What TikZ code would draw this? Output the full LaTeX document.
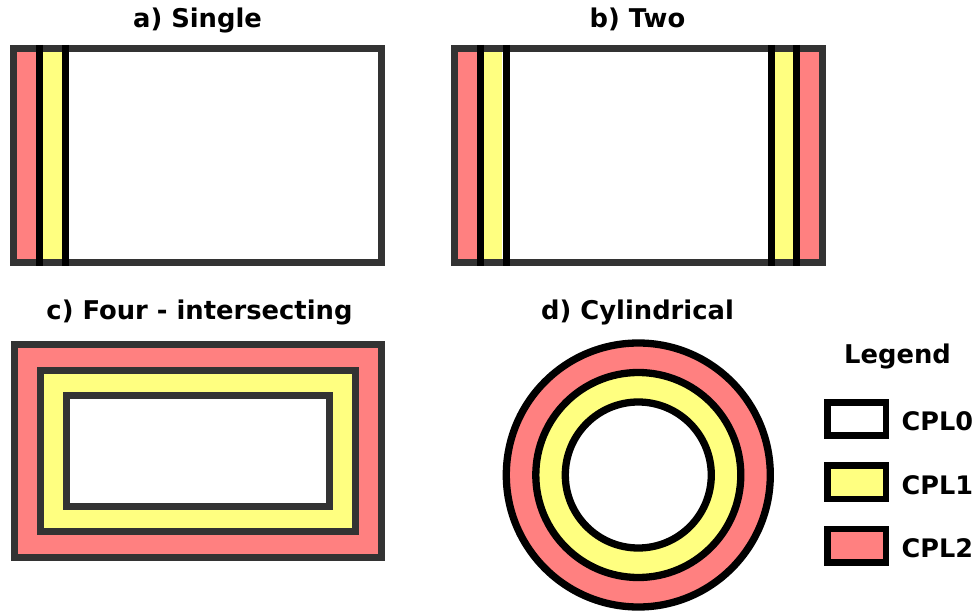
\documentclass[tikz,border=0pt]{standalone}
\usepackage{fontspec}
\setmainfont{DejaVu Sans}
\definecolor{cplred}{HTML}{FF8080}
\definecolor{cplyellow}{HTML}{FFFF80}
\definecolor{frame}{HTML}{333333}
\begin{document}
\begin{tikzpicture}[x=1pt,y=-1pt,
  title/.style={font=\fontsize{25.8}{30}\selectfont\bfseries, anchor=base, inner sep=0pt},
  legtext/.style={font=\fontsize{25.5}{30}\selectfont\bfseries, anchor=base west, inner sep=0pt},
  grayline/.style={draw=frame, line width=7pt},
  blackline/.style={draw=black, line width=7pt},
  legbox/.style={draw=black, line width=6.7pt}]
\useasboundingbox[fill=white] (0,0) rectangle (975,615);

% ---------- a) Single ----------
\node[title] (ta) at (197.5,27.5) {a) Single};
\fill[cplred] (17,52) rectangle (36.5,259);
\fill[cplyellow] (43,52) rectangle (62,259);
\draw[grayline] (13.5,48.5) rectangle (381.5,262.5);
\draw[blackline] (39.5,45) -- (39.5,266);
\draw[blackline] (65,45) -- (65,266);

% ---------- b) Two ----------
\node[title] (tb) at (637.5,27.5) {b) Two};
\fill[cplred] (458,52) rectangle (477,259);
\fill[cplyellow] (484,52) rectangle (502,259);
\fill[cplyellow] (774.5,52) rectangle (793,259);
\fill[cplred] (800,52) rectangle (819,259);
\draw[grayline] (454.5,48.5) rectangle (822.5,262.5);
\draw[blackline] (480.5,45) -- (480.5,266);
\draw[blackline] (506,45) -- (506,266);
\draw[blackline] (771,45) -- (771,266);
\draw[blackline] (796.5,45) -- (796.5,266);

% ---------- c) Four - intersecting ----------
\node[title] (tc) at (199.5,319) {c) Four - intersecting};
\draw[grayline, fill=cplred] (14.5,344.5) rectangle (381.5,557.5);
\draw[grayline, fill=cplyellow] (40.5,370.3) rectangle (355.5,531.7);
\draw[grayline, fill=white] (66.3,395.8) rectangle (329.7,506.3);

% ---------- d) Cylindrical ----------
\node[title] (td) at (637.5,319) {d) Cylindrical};
\coordinate (dc) at (638.3,475);
\draw[blackline, line width=7.3pt, fill=cplred] (dc) circle[radius=132pt];
\draw[blackline, line width=7.3pt, fill=cplyellow] (dc) circle[radius=102.5pt];
\draw[blackline, line width=7.3pt, fill=white] (dc) circle[radius=73pt];

% ---------- Legend ----------
\node[title] (tl) at (897.5,363) {Legend};
\draw[legbox, fill=white] (827.3,402.3) rectangle (886,435.7);
\draw[legbox, fill=cplyellow] (827.3,465.6) rectangle (886,499);
\draw[legbox, fill=cplred] (827.3,528.9) rectangle (886,562.3);
\node[legtext] (l0) at (901.5,430) {CPL0};
\node[legtext] (l1) at (901.5,494) {CPL1};
\node[legtext] (l2) at (901.5,557.5) {CPL2};
\end{tikzpicture}
\end{document}
